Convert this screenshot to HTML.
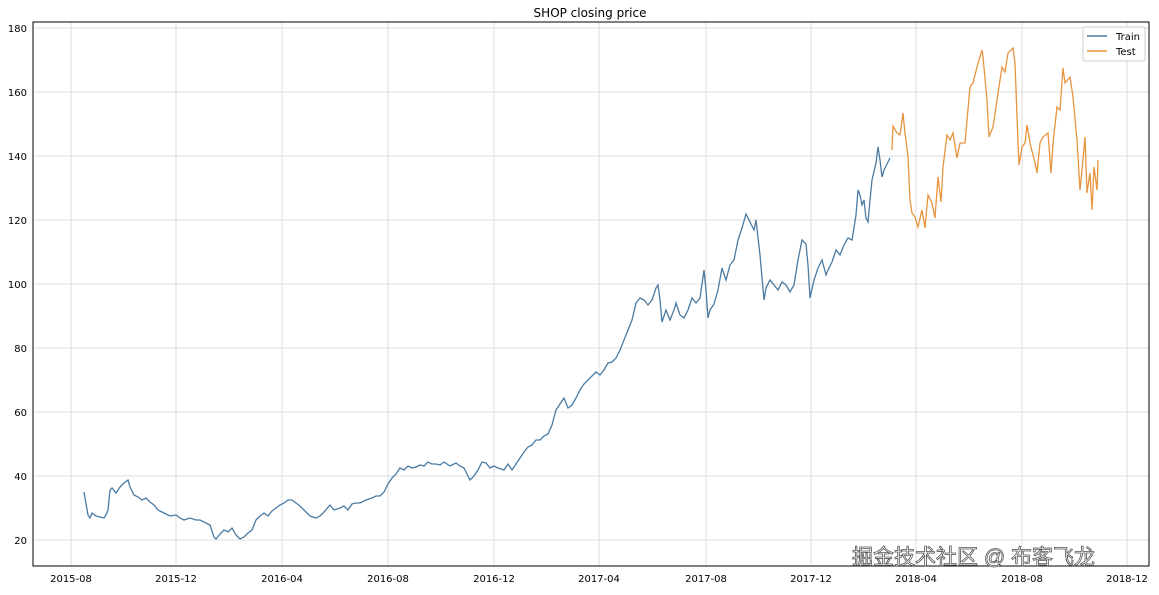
<!DOCTYPE html>
<html><head><meta charset="utf-8"><style>body{margin:0;background:#fff}</style></head><body>
<svg width="1159" height="590" xmlns="http://www.w3.org/2000/svg" font-family="DejaVu Sans, Liberation Sans, sans-serif">
<rect width="1159" height="590" fill="#fff"/>
<text x="590" y="17" text-anchor="middle" font-size="12">SHOP closing price</text>
<g stroke="#dcdcdc" stroke-width="1">
<line x1="33" x2="1149" y1="540" y2="540"/><line x1="33" x2="1149" y1="476" y2="476"/><line x1="33" x2="1149" y1="412" y2="412"/><line x1="33" x2="1149" y1="348" y2="348"/><line x1="33" x2="1149" y1="284" y2="284"/><line x1="33" x2="1149" y1="220" y2="220"/><line x1="33" x2="1149" y1="156" y2="156"/><line x1="33" x2="1149" y1="92" y2="92"/><line x1="33" x2="1149" y1="28" y2="28"/>
<line y1="22" y2="566" x1="71" x2="71"/><line y1="22" y2="566" x1="176" x2="176"/><line y1="22" y2="566" x1="282" x2="282"/><line y1="22" y2="566" x1="388" x2="388"/><line y1="22" y2="566" x1="494" x2="494"/><line y1="22" y2="566" x1="599" x2="599"/><line y1="22" y2="566" x1="706" x2="706"/><line y1="22" y2="566" x1="811" x2="811"/><line y1="22" y2="566" x1="916" x2="916"/><line y1="22" y2="566" x1="1022" x2="1022"/><line y1="22" y2="566" x1="1127" x2="1127"/>
</g>
<rect x="33" y="22" width="1116" height="544" fill="none" stroke="#000" stroke-width="1"/>
<g font-size="10" text-anchor="end">
<text x="27" y="544">20</text><text x="27" y="480">40</text><text x="27" y="416">60</text><text x="27" y="352">80</text><text x="27" y="288">100</text><text x="27" y="224">120</text><text x="27" y="160">140</text><text x="27" y="96">160</text><text x="27" y="32">180</text>
</g>
<g font-size="10" text-anchor="middle">
<text x="71" y="582">2015-08</text><text x="176" y="582">2015-12</text><text x="282" y="582">2016-04</text><text x="388" y="582">2016-08</text><text x="494" y="582">2016-12</text><text x="599" y="582">2017-04</text><text x="706" y="582">2017-08</text><text x="811" y="582">2017-12</text><text x="916" y="582">2018-04</text><text x="1022" y="582">2018-08</text><text x="1127" y="582">2018-12</text>
</g>
<polyline fill="none" stroke="#4a7ba3" stroke-width="1.3" points="84,492 88,515 90,518 92,513 96,516 100,517 104,518 106,515 108,510 110,490 112,488 116,493 120,487 124,483 128,480 130,487 134,495 138,497 142,500 146,498 150,502 154,505 158,510 162,512 166,514 170,516 176,515 180,518 184,520 190,518 196,520 200,520 206,523 210,525 214,537 216,539 220,534 224,530 228,532 232,528 236,535 240,539 244,537 248,533 252,530 256,520 260,516 264,513 268,516 272,511 276,508 280,505 284,503 288,500 292,500 296,503 300,506 304,510 310,516 316,518 320,516 324,512 330,505 334,510 340,508 344,506 348,510 352,504 356,503 360,503 366,500 372,498 376,496 380,496 384,492 388,484 392,478 396,474 400,468 404,470 408,466 412,468 416,467 420,465 424,466 428,462 432,464 436,464 440,465 444,462 450,466 456,463 460,466 464,468 470,480 474,476 478,470 482,462 486,463 490,468 494,466 498,468 504,470 508,464 512,470 516,464 520,458 524,452 528,447 532,445 536,440 540,440 544,436 548,434 552,425 556,410 560,404 564,398 568,408 572,405 576,398 580,390 584,384 588,380 592,376 596,372 600,375 604,370 608,363 612,362 616,358 620,350 624,340 628,330 632,320 636,303 640,298 644,300 648,305 652,300 656,288 658,285 660,300 662,322 666,310 670,320 674,310 676,303 680,315 684,318 688,310 692,298 696,303 700,298 704,270 706,290 708,318 710,310 714,304 718,290 722,268 726,280 730,265 734,260 738,240 742,228 746,214 750,222 754,230 756,220 760,255 764,300 766,288 770,280 774,285 778,290 782,282 786,285 790,292 794,285 798,260 802,240 806,244 808,265 810,298 814,280 818,268 822,260 826,275 828,270 832,262 836,250 840,255 844,245 848,238 852,240 856,215 858,190 860,195 862,205 864,200 866,218 868,222 870,200 872,180 876,163 878,147 880,160 882,177 884,170 886,166 888,162 890,158"/>
<polyline fill="none" stroke="#e8943f" stroke-width="1.3" points="892,150 893,126 897,133 900,135 903,113 905,133 908,157 910,200 912,213 915,217 918,227 922,210 925,228 928,195 932,203 935,218 938,177 941,202 943,167 947,135 950,140 953,133 957,158 960,143 965,143 970,87 973,83 977,67 982,50 983,57 987,100 989,137 993,127 997,100 1002,67 1005,72 1008,53 1013,48 1015,63 1018,143 1019,165 1022,147 1025,143 1027,125 1030,143 1035,163 1037,173 1040,143 1043,137 1048,133 1051,173 1053,143 1057,107 1060,110 1063,68 1065,83 1070,77 1073,97 1077,140 1080,190 1082,170 1085,137 1087,193 1090,173 1092,210 1094,167 1097,190 1098,160"/>
<rect x="1083" y="27" width="62" height="34" fill="#fff" fill-opacity="0.85" stroke="#ccc" rx="2"/>
<line x1="1087" x2="1107" y1="36" y2="36" stroke="#4a7ba3" stroke-width="1.5"/>
<line x1="1087" x2="1107" y1="51" y2="51" stroke="#e8943f" stroke-width="1.5"/>
<text x="1116" y="40" font-size="10">Train</text><text x="1116" y="55" font-size="10">Test</text>
<text x="852" y="564" font-size="21" fill="#fff" stroke="#555" stroke-width="0.8" font-family="Liberation Sans, Noto Sans CJK SC, sans-serif">掘金技术社区 @ 布客飞龙</text>
</svg>
</body></html>
